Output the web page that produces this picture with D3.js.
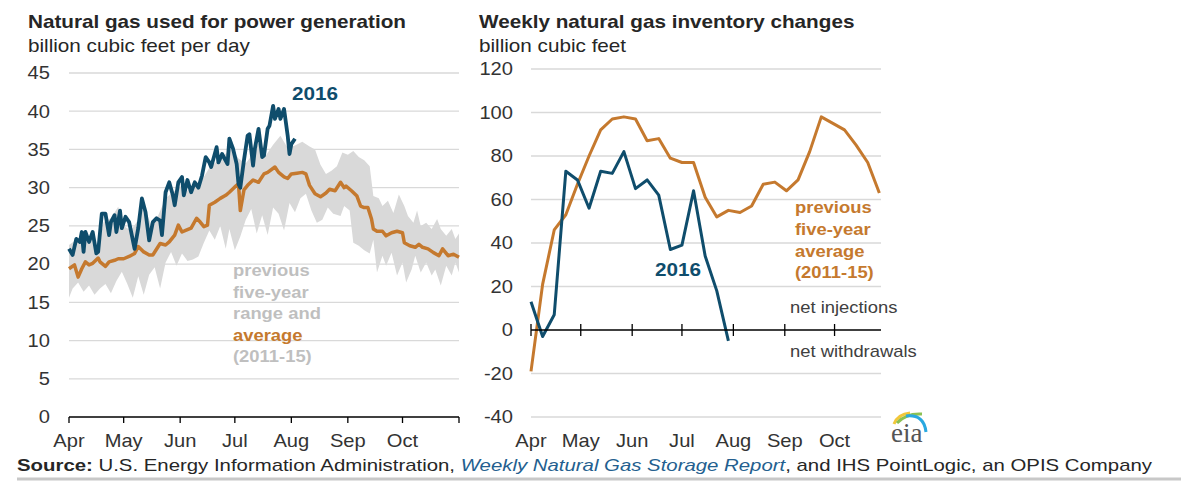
<!DOCTYPE html>
<html>
<head>
<meta charset="utf-8">
<style>
  body { margin: 0; background: #fff; }
  svg { display: block; font-family: "Liberation Sans", Arial, sans-serif; }
</style>
</head>
<body>
<svg id="chart" width="1187" height="483"></svg>
<script src="https://d3js.org/d3.v7.min.js"></script>
<script>
// ---- data ----
// left panel: days counted from April 1, values in Bcf/d
var blueDays = [0,2,4,6,7,8,9,11,13,15,16,18,20,22,23,25,26,28,29,31,33,36,38,40,42,44,46,48,50,51,53,55,57,58,60,62,63,65,67,69,71,73,75,77,78,81,82,84,87,88,90,92,93,94,96,98,99,101,102,104,106,107,109,110,112,113,115,116,118,120,121,122,124];
var blueVals = [22.0,21.2,23.3,22.9,24.2,21.6,24.2,22.9,24.2,21.4,21.6,26.6,26.6,23.8,25.5,26.4,24.2,27.0,24.7,26.2,25.5,22.0,24.7,28.6,26.8,23.1,25.5,26.0,25.7,23.8,29.4,30.7,29.0,27.7,30.7,31.4,29.0,31.0,29.4,30.7,30.0,31.6,34.0,33.3,32.7,35.3,33.3,34.4,33.1,36.4,35.1,33.1,30.5,30.0,33.6,36.8,37.0,32.9,35.1,37.7,34.0,34.2,37.7,38.1,40.7,39.0,40.3,39.0,40.3,36.8,34.4,35.7,36.4];

var avgDays = [0,3,5,7,9,11,13,16,17,20,22,25,27,30,33,36,38,41,44,46,50,53,55,58,60,62,64,67,70,72,74,76,77,80,83,86,88,91,93,94,96,98,101,104,107,109,113,115,118,120,122,125,128,130,132,135,138,141,143,146,149,151,152,155,158,160,162,164,166,167,169,172,174,177,180,183,184,187,190,192,194,197,200,203,205,208,211,214];
var avgVals = [19.4,19.9,18.3,19.4,20.3,19.9,20.1,20.8,20.3,19.7,20.3,20.5,20.7,20.7,21.0,21.4,22.3,21.6,21.2,21.2,22.7,22.5,22.9,23.8,25.1,24.2,24.4,24.7,26.0,25.5,24.9,25.1,27.7,28.1,28.6,29.0,29.4,30.1,30.5,27.0,29.7,30.3,31.0,30.7,31.8,32.0,32.7,32.0,31.4,31.2,31.8,31.9,32.0,31.8,30.3,29.2,28.8,29.3,29.8,29.6,30.7,30.0,30.2,29.6,28.9,27.6,27.4,27.4,25.9,24.6,24.3,24.3,23.7,24.1,24.3,24.1,22.8,22.4,22.2,22.6,22.2,22.0,21.5,21.1,22.0,21.1,21.3,20.9];

var bandHighDays = [0,4,8,12,16,19,23,27,30,34,38,41,45,49,53,57,61,65,69,73,77,81,85,89,93,97,101,104,108,112,116,120,124,128,132,135,138,141,144,147,150,153,156,159,162,165,167,170,172,175,178,181,184,186,189,191,193,196,199,202,204,207,210,212,214];
var bandHigh = [22.5,23.2,22.8,23.6,22.2,25.5,26.0,27.5,25.0,24.4,25.8,27.6,25.2,26.4,28.6,29.4,30.2,29.6,30.4,31.0,32.6,33.4,34.2,35.2,33.8,33.2,34.4,35.8,34.2,35.6,36.8,35.2,35.5,36.0,35.4,35.0,33.0,31.8,32.2,32.8,34.6,34.3,34.8,34.0,33.6,32.8,28.9,28.6,27.6,28.3,26.7,29.1,27.6,26.3,25.4,27.0,25.0,25.4,24.6,25.9,24.6,23.7,24.6,23.3,24.0];
var bandLowDays = [0,2,5,8,11,14,17,20,23,26,29,32,35,38,41,44,47,50,53,56,59,62,65,68,71,74,77,80,83,86,88,91,94,97,100,103,106,109,112,115,118,121,124,127,130,133,136,139,142,145,149,151,154,156,159,162,165,167,169,172,174,177,180,183,185,188,190,193,196,199,201,204,207,210,212,214];
var bandLow = [15.6,16.8,17.6,16.4,17.2,16.0,16.8,17.4,16.2,17.8,19.0,17.4,15.6,18.4,16.0,18.6,19.6,16.8,20.2,21.6,19.8,21.4,20.4,20.6,21.0,22.8,24.4,23.2,25.0,22.0,24.6,21.8,23.6,25.8,27.2,24.0,26.4,23.8,27.4,26.6,24.4,28.0,26.8,28.6,29.2,27.0,25.4,25.8,27.4,26.6,26.3,27.6,27.0,22.8,22.4,21.8,21.4,23.2,18.9,21.1,19.8,21.5,18.5,20.2,17.6,19.3,21.1,18.9,20.2,18.5,19.3,17.2,19.8,18.5,20.2,18.9];

var leftTicks = [0,5,10,15,20,25,30,35,40,45];

// right panel: weekly, first week at April 1, values in Bcf
var weekly2016 = [13,-3,7,73,69,56,73,72,82,65,69,62,37,39,64,34,18,-5];
var weeklyAvg = [-19,21,46,53,67,80,92,97,98,97,87,88,79,77,77,61,52,55,54,57,67,68,64,69,82,98,95,92,85,77,63];
var rightTicks = [-40,-20,20,40,60,80,100,120];

var monthNames = ["Apr","May","Jun","Jul","Aug","Sep","Oct"];

// ---- setup ----
var SX = 1.15; // the picture is a little stretched sideways
var blue = "#0f4d6c", orange = "#c5792e", band = "#d9d9d9", grid = "#d9d9d9";
var start = new Date(2016, 3, 1);
function day(d) { return d3.timeDay.offset(start, d); }

var svg = d3.select("#chart");

function label(g, x, y, str, o) {
  o = o || {};
  return g.append("text")
    .attr("transform", "translate(" + x + "," + y + ") scale(" + SX + ",1)")
    .attr("text-anchor", o.anchor || "start")
    .attr("dy", o.dy || null)
    .attr("font-size", (o.size || 16) + "px")
    .attr("font-weight", o.bold ? "bold" : "normal")
    .attr("fill", o.fill || "#333")
    .text(str);
}

// ---- left panel ----
var xL = d3.scaleTime().domain([start, new Date(2016, 10, 1)]).range([69, 459]);
var yL = d3.scaleLinear().domain([0, 45]).range([417, 73]);
var gl = svg.append("g");

label(gl, 28, 28, "Natural gas used for power generation", {size: 18, bold: true, fill: "#262626"});
label(gl, 28, 52, "billion cubic feet per day", {size: 18, fill: "#262626"});

gl.selectAll("line.grid").data(leftTicks.slice(1)).enter().append("line")
  .attr("x1", xL.range()[0]).attr("x2", xL.range()[1])
  .attr("y1", function(d){ return yL(d); }).attr("y2", function(d){ return yL(d); })
  .attr("stroke", grid).attr("stroke-width", 1.3);

leftTicks.forEach(function(t){
  label(gl, 50, yL(t), t, {size: 17.5, anchor: "end", dy: "0.36em"});
});

var bandPts = bandHighDays.map(function(d,i){ return [d, bandHigh[i]]; })
  .concat(bandLowDays.map(function(d,i){ return [d, bandLow[i]]; }).reverse());
var lineL = d3.line().x(function(p){ return xL(day(p[0])); }).y(function(p){ return yL(p[1]); });
gl.append("path").attr("d", lineL(bandPts) + "Z").attr("fill", band);

gl.append("path")
  .attr("d", lineL(avgDays.map(function(d,i){ return [d, avgVals[i]]; })))
  .attr("fill", "none").attr("stroke", orange).attr("stroke-width", 3.5).attr("stroke-linejoin", "round");
gl.append("path")
  .attr("d", lineL(blueDays.map(function(d,i){ return [d, blueVals[i]]; })))
  .attr("fill", "none").attr("stroke", blue).attr("stroke-width", 3.8).attr("stroke-linejoin", "round");

// axis
var monthsL = d3.timeMonth.range(start, new Date(2016, 10, 2));
gl.append("line").attr("x1", xL.range()[0]).attr("x2", xL.range()[1])
  .attr("y1", yL(0)).attr("y2", yL(0)).attr("stroke", "#000").attr("stroke-width", 1.3);
gl.selectAll("line.tick").data(monthsL).enter().append("line")
  .attr("x1", function(d){ return xL(d); }).attr("x2", function(d){ return xL(d); })
  .attr("y1", yL(0)).attr("y2", yL(0) + 6).attr("stroke", "#000").attr("stroke-width", 1.3);
monthsL.slice(0, 7).forEach(function(m, i){
  label(gl, xL(m), 447, monthNames[i], {size: 17.5, anchor: "middle"});
});

label(gl, 292, 100, "2016", {size: 18, bold: true, fill: blue});
var gray = "#bfbfbf";
[["previous", gray], ["five-year", gray], ["range and", gray], ["average", orange], ["(2011-15)", gray]]
  .forEach(function(r, i){ label(gl, 233, 276 + i * 21.6, r[0], {size: 16, bold: true, fill: r[1]}); });

// ---- right panel ----
var xR = d3.scaleTime().domain([start, new Date(2016, 9, 29)]).range([531, 881]);
var yR = d3.scaleLinear().domain([-40, 120]).range([417, 69]);
var gr = svg.append("g");

label(gr, 479, 28, "Weekly natural gas inventory changes", {size: 18, bold: true, fill: "#262626"});
label(gr, 479, 52, "billion cubic feet", {size: 18, fill: "#262626"});

gr.selectAll("line.grid").data(rightTicks).enter().append("line")
  .attr("x1", xR.range()[0]).attr("x2", xR.range()[1])
  .attr("y1", function(d){ return yR(d); }).attr("y2", function(d){ return yR(d); })
  .attr("stroke", grid).attr("stroke-width", 1.3);
rightTicks.concat([0]).forEach(function(t){
  label(gr, 513, yR(t), t, {size: 17.5, anchor: "end", dy: "0.36em"});
});

var lineR = d3.line().x(function(v, i){ return xR(day(i * 7)); }).y(function(v){ return yR(v); });
gr.append("path").attr("d", lineR(weeklyAvg))
  .attr("fill", "none").attr("stroke", orange).attr("stroke-width", 3).attr("stroke-linejoin", "round");
gr.append("path").attr("d", lineR(weekly2016))
  .attr("fill", "none").attr("stroke", blue).attr("stroke-width", 3).attr("stroke-linejoin", "round");

var monthsR = d3.timeMonth.range(start, new Date(2016, 9, 2));
gr.append("line").attr("x1", xR.range()[0]).attr("x2", xR.range()[1])
  .attr("y1", yR(0)).attr("y2", yR(0)).attr("stroke", "#000").attr("stroke-width", 1.3);
gr.selectAll("line.tick").data(monthsR).enter().append("line")
  .attr("x1", function(d){ return xR(d); }).attr("x2", function(d){ return xR(d); })
  .attr("y1", yR(0) - 6).attr("y2", yR(0) + 6).attr("stroke", "#000").attr("stroke-width", 1.3);
monthsR.forEach(function(m, i){
  label(gr, xR(m), 447, monthNames[i], {size: 17.5, anchor: "middle"});
});

["previous", "five-year", "average", "(2011-15)"].forEach(function(s, i){
  label(gr, 795, 213 + i * 21.8, s, {size: 16, bold: true, fill: orange});
});
label(gr, 655, 276, "2016", {size: 18, bold: true, fill: blue});
label(gr, 790, 313, "net injections", {size: 16, fill: "#404040"});
label(gr, 790, 357, "net withdrawals", {size: 16, fill: "#404040"});

// eia logo
var logo = svg.append("g");
logo.append("path").attr("d", "M894,424 Q898,414 910,413").attr("fill", "none").attr("stroke", "#f2c73a").attr("stroke-width", 3);
logo.append("path").attr("d", "M897,423 Q906,413 922,414").attr("fill", "none").attr("stroke", "#8cc152").attr("stroke-width", 3);
logo.append("path").attr("d", "M906,416 Q924,414 926,432").attr("fill", "none").attr("stroke", "#29a8e0").attr("stroke-width", 3);
logo.append("text").attr("x", 891).attr("y", 442).attr("font-family", "'Liberation Serif', serif")
  .attr("font-size", "27px").attr("fill", "#555").text("eia");

// source
var src = svg.append("text").attr("x", 17).attr("y", 471).attr("font-size", "17px").attr("fill", "#262626")
  .attr("textLength", 1135).attr("lengthAdjust", "spacingAndGlyphs");
src.append("tspan").attr("font-weight", "bold").text("Source:");
src.append("tspan").text(" U.S. Energy Information Administration, ");
src.append("tspan").attr("font-style", "italic").attr("fill", "#245f8f").text("Weekly Natural Gas Storage Report");
src.append("tspan").text(", and IHS PointLogic, an OPIS Company");
svg.append("line").attr("x1", 17).attr("x2", 1181).attr("y1", 479).attr("y2", 479)
  .attr("stroke", "#c8c8c8").attr("stroke-width", 3);
</script>
</body>
</html>
